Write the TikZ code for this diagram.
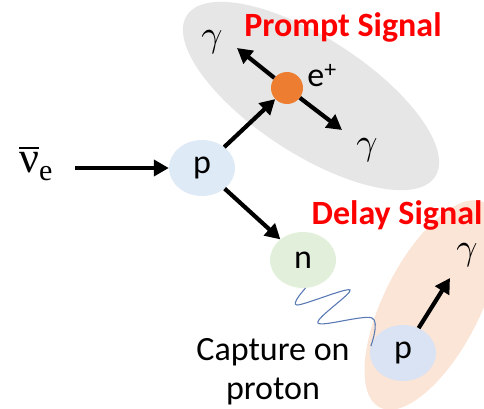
\documentclass[tikz,border=0pt]{standalone}
\usepackage{fontspec}
\setmainfont{Carlito}
\newfontfamily\grk{Liberation Serif}
\usetikzlibrary{shapes.geometric,arrows.meta}
\definecolor{greybg}{HTML}{E7E6E6}
\definecolor{orangebg}{HTML}{FBE5D6}
\definecolor{pblue}{HTML}{DEEBF7}
\definecolor{pblueb}{HTML}{DAE3F3}
\definecolor{ngreen}{HTML}{E2EFDA}
\definecolor{eorange}{HTML}{ED7D31}
\definecolor{sigred}{HTML}{FF0000}
\definecolor{wavecol}{HTML}{5B7BB5}
\tikzset{
  particle/.style={ellipse, minimum width=66pt, minimum height=56pt, inner sep=0pt, font=\fontsize{34}{36}\selectfont},
  thickarrow/.style={line width=4.2pt, -{Triangle[length=15pt,width=16pt]}},
  lbl/.style={font=\fontsize{34}{36}\selectfont, inner sep=0pt},
  mathlbl/.style={inner sep=0pt},
  sig/.style={font=\fontsize{34}{36}\selectfont\bfseries, text=sigred, inner sep=0pt},
  wave/.style={draw=wavecol, line width=1.1pt}
}
\newcommand{\gam}{\scalebox{3.7}{$\gamma$}}
\newcommand{\nubarlabel}{\leavevmode\vbox{\hrule height 2pt\kern 2.5pt\hbox{\grk\fontsize{44}{46}\selectfont ν}}\raisebox{-8pt}{\grk\fontsize{30}{32}\selectfont e}}
\begin{document}
\begin{tikzpicture}[x=1pt,y=-1pt]
\useasboundingbox (0,0) rectangle (484,409);
\clip (0,0) rectangle (484,409);
% background regions
\node[ellipse, fill=greybg, minimum width=296pt, minimum height=116pt, inner sep=0pt, rotate=-33] (prompt) at (311,96) {};
\node[ellipse, fill=orangebg, minimum width=230pt, minimum height=96pt, inner sep=0pt, rotate=63] (delay) at (432,305) {};
% particles
\node[particle, fill=pblue] (p1) at (202,168) {p};
\node[particle, fill=ngreen] (n) at (303,260) {n};
\node[particle, fill=pblueb] (p2) at (403,353) {p};
\node[circle, fill=eorange, minimum size=32pt, inner sep=0pt] (e) at (287,88) {};
\node[lbl] (elbl) at (322,76) {e\textsuperscript{+}};
% labels
\node[inner sep=0pt, anchor=base west] (nu) at (19,172) {\nubarlabel};
\node[mathlbl] (g1) at (212,42) {\gam};
\node[mathlbl] (g2) at (367,150) {\gam};
\node[mathlbl] (g3) at (467,255) {\gam};
\node[sig] (ptitle) at (343,27) {Prompt Signal};
\node[sig] (dtitle) at (397,215) {Delay Signal};
\node[lbl, align=center, font=\fontsize{34}{39}\selectfont] (cap) at (273,372) {Capture on\\proton};
% connectors
\coordinate (nustart) at (75,168);
\coordinate (g1tip) at (237,48);
\coordinate (g2tip) at (342,130);
\coordinate (g3tip) at (450,278);
\draw[thickarrow] (nustart) -- (p1);
\draw[thickarrow] (p1) -- (e);
\draw[thickarrow] (e) -- (g1tip);
\draw[thickarrow] (e) -- (g2tip);
\draw[thickarrow] (p1) -- (n);
\draw[thickarrow] (p2) -- (g3tip);
\draw[wave] plot[smooth, tension=0.55] coordinates {(n.-85) (297,305) (350,290) (318,323) (372,318) (p2.168)};
\end{tikzpicture}
\end{document}
